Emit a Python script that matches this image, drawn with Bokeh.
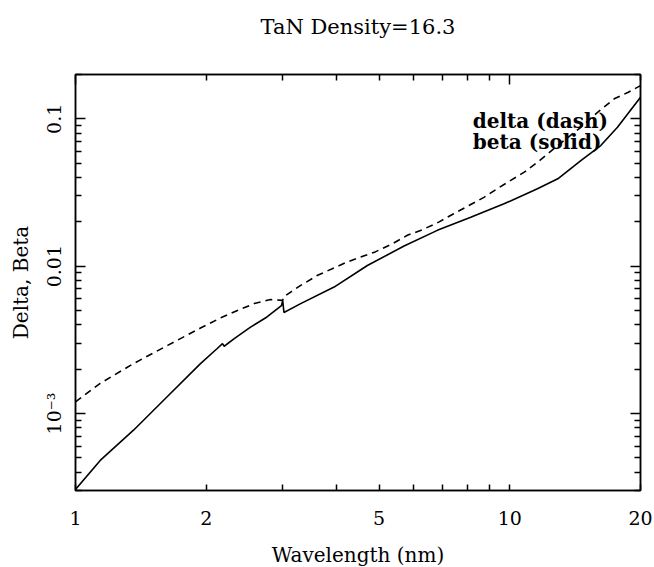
from bokeh.plotting import figure
from bokeh.models import FixedTicker, LogAxis, Label, Range1d
from bokeh.embed import file_html
from bokeh.resources import INLINE

# ---- data ----
wavelength_beta = [1.0, 1.14, 1.36, 1.63, 1.94, 2.12, 2.18, 2.20, 2.32, 2.53, 2.76,
                   2.98, 3.00, 3.02, 3.30, 3.94, 4.70, 5.71, 6.81, 8.13, 9.70,
                   11.58, 12.9, 14.6, 16.2, 17.7, 20.0]
beta = [3.05e-4, 4.8e-4, 7.7e-4, 1.31e-3, 2.18e-3, 2.76e-3, 2.98e-3, 2.86e-3, 3.22e-3,
        3.86e-3, 4.52e-3, 5.40e-3, 5.85e-3, 4.85e-3, 5.57e-3, 7.21e-3, 1.01e-2,
        1.37e-2, 1.75e-2, 2.15e-2, 2.65e-2, 3.35e-2, 3.92e-2, 5.22e-2, 6.59e-2,
        8.77e-2, 0.140]

wavelength_delta = [1.0, 1.14, 1.36, 1.63, 1.94, 2.18, 2.36, 2.58, 2.81, 3.00, 3.02,
                    3.13, 3.30, 3.61, 3.90, 4.22, 4.53, 4.90, 5.37, 5.81, 6.30, 6.86,
                    7.43, 8.05, 8.74, 9.35, 10.05, 10.8, 11.8, 12.9, 14.6, 16.0,
                    17.4, 18.7, 20.0]
delta = [1.2e-3, 1.6e-3, 2.18e-3, 2.9e-3, 3.8e-3, 4.52e-3, 5.0e-3, 5.57e-3, 5.93e-3,
         5.86e-3, 6.2e-3, 6.67e-3, 7.4e-3, 8.67e-3, 9.6e-3, 1.067e-2, 1.153e-2,
         1.25e-2, 1.42e-2, 1.62e-2, 1.77e-2, 1.99e-2, 2.27e-2, 2.58e-2, 2.94e-2,
         3.35e-2, 3.82e-2, 4.35e-2, 5.3e-2, 6.6e-2, 8.8e-2, 0.112, 0.1368, 0.151, 0.168]

x_major = [1, 2, 5, 10, 20]
x_minor = [3, 4, 6, 7, 8, 9]
x_labels = ["1", "2", "5", "10", "20"]
x_top_major = [1, 10]
x_top_minor = [2, 3, 4, 5, 6, 7, 8, 9, 20]
y_major = [0.001, 0.01, 0.1]
y_labels = ["10⁻³", "0.01", "0.1"]
y_minor = [3e-4, 4e-4, 5e-4, 6e-4, 7e-4, 8e-4, 9e-4,
           2e-3, 3e-3, 4e-3, 5e-3, 6e-3, 7e-3, 8e-3, 9e-3,
           0.02, 0.03, 0.04, 0.05, 0.06, 0.07, 0.08, 0.09, 0.2]
title_text = "TaN Density=16.3"

FONT = "DejaVu Serif"

p = figure(x_axis_type="log", y_axis_type="log",
           x_range=Range1d(1, 20), y_range=Range1d(3.0e-4, 0.2),
           frame_width=565, frame_height=416,
           min_border_left=75, min_border_right=14,
           min_border_top=74, min_border_bottom=77,
           output_backend="svg", toolbar_location=None,
           title=title_text + "\n")
p.grid.visible = False
p.outline_line_color = "black"
p.outline_line_width = 1.5
p.background_fill_color = "white"
p.border_fill_color = "white"

p.title.align = "center"
p.title.vertical_align = "top"
p.title.text_font = FONT
p.title.text_font_size = "21px"
p.title.text_font_style = "normal"
p.title.text_color = "black"
p.title.standoff = 20


def style(ax, major_len=10, minor_len=6):
    ax.major_tick_in = major_len
    ax.major_tick_out = 0
    ax.minor_tick_in = minor_len
    ax.minor_tick_out = 0
    ax.axis_line_color = "black"
    ax.axis_line_width = 1.5
    ax.major_tick_line_color = "black"
    ax.minor_tick_line_color = "black"
    ax.major_tick_line_width = 1.5
    ax.minor_tick_line_width = 1.5
    ax.major_label_text_font = FONT
    ax.major_label_text_font_size = "19px"
    ax.major_label_text_color = "black"
    ax.axis_label_text_font = FONT
    ax.axis_label_text_font_size = "20px"
    ax.axis_label_text_font_style = "normal"
    ax.axis_label_text_color = "black"


xa = p.xaxis[0]
xa.ticker = FixedTicker(ticks=x_major, minor_ticks=x_minor)
xa.major_label_overrides = {float(v): s for v, s in zip(x_major, x_labels)}
style(xa, major_len=6, minor_len=6)
xa.major_label_standoff = 20
xa.axis_label = "Wavelength (nm)"
xa.axis_label_standoff = 15

ya = p.yaxis[0]
ya.ticker = FixedTicker(ticks=y_major, minor_ticks=y_minor)
ya.major_label_overrides = {float(v): s for v, s in zip(y_major, y_labels)}
style(ya)
ya.major_label_orientation = "vertical"
ya.major_label_standoff = 10
ya.axis_label = "Delta, Beta"
ya.axis_label_standoff = 8

top = LogAxis(ticker=FixedTicker(ticks=x_top_major, minor_ticks=x_top_minor))
style(top)
top.major_label_text_font_size = "1px"
top.major_label_text_alpha = 0
top.major_label_standoff = 0
p.add_layout(top, "above")

right = LogAxis(ticker=FixedTicker(ticks=y_major, minor_ticks=y_minor))
style(right)
right.major_label_text_font_size = "1px"
right.major_label_text_alpha = 0
right.major_label_standoff = 0
p.add_layout(right, "right")

p.line(wavelength_delta, delta, line_color="black", line_width=1.6, line_dash="7 5")
p.line(wavelength_beta, beta, line_color="black", line_width=1.6)

for txt, yv in [("delta (dash)", 0.0974), ("beta (solid)", 0.0701)]:
    p.add_layout(Label(x=8.22, y=yv, text=txt, text_font=FONT,
                       text_font_size="20px", text_font_style="bold",
                       text_color="black", text_baseline="alphabetic",
                       text_align="left"))

open("out.html", "w").write(file_html(p, INLINE))
